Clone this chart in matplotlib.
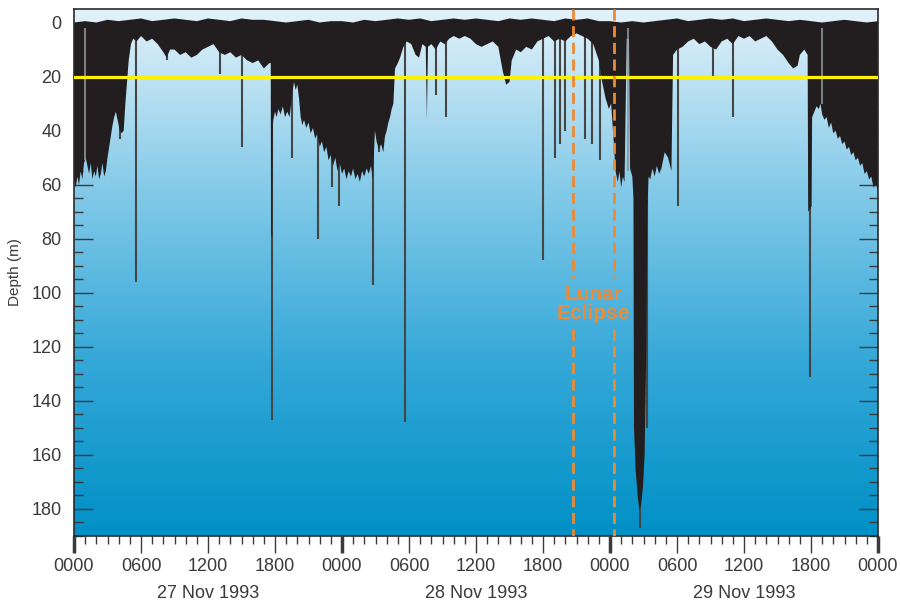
import numpy as np
import matplotlib.pyplot as plt
from matplotlib.colors import LinearSegmentedColormap

# dive record, hours since 0000 27 Nov 1993, depth in m
# lower outline of the dense dive trace
env_hours = [0.0, 0.15, 0.3, 0.45, 0.6, 0.75, 0.9, 1.05, 1.2, 1.35, 1.5, 1.65, 1.8, 1.95, 2.1, 2.25, 2.4, 2.55,
             2.7, 2.85, 3.0, 3.15, 3.3, 3.45, 3.6, 3.75, 3.9, 4.05, 4.25, 4.45, 4.6, 4.75, 4.9, 5.1, 5.3, 5.6,
             6.0, 6.5, 7.0, 7.5, 8.0, 8.3, 8.6, 9.0, 9.5, 10.0, 10.5, 11.0, 11.5, 12.0, 12.5, 13.0, 13.5,
             14.0, 14.5, 15.0, 15.5, 16.0, 16.5, 17.0, 17.5, 17.62, 17.65, 17.75, 17.8,
             17.85, 18.0, 18.15, 18.3, 18.5, 18.7, 18.9, 19.1, 19.3, 19.45, 19.55, 19.7, 19.85, 20.0, 20.15,
             20.3, 20.45, 20.6, 20.8, 21.0, 21.2, 21.4, 21.6, 21.8, 22.0, 22.2, 22.4, 22.6, 22.8, 23.0,
             23.2, 23.4, 23.6, 23.8, 24.0, 24.2, 24.4, 24.6, 24.8, 25.0, 25.2, 25.4, 25.6, 25.8, 26.0,
             26.2, 26.4, 26.6, 26.75, 26.95, 27.1, 27.3, 27.5, 27.7, 27.85, 28.0, 28.15, 28.3, 28.45, 28.6,
             28.75, 29.0, 29.2, 29.5,
             29.8, 30.2, 30.6, 30.9, 31.2, 31.5, 31.6, 31.7, 32.0, 32.4, 32.8, 33.2, 33.6, 34.0, 34.5,
             35.0, 35.5, 36.0, 36.5, 37.0, 37.5, 38.0, 38.4, 38.7, 39.0, 39.2, 39.6, 40.0, 40.5, 41.0,
             41.5, 42.0, 42.5, 43.0, 43.5, 44.0, 44.5, 45.0, 45.5, 46.0, 46.5, 47.0, 47.3, 47.6, 47.9,
             48.1, 48.3, 48.5, 48.7, 48.85, 49.0, 49.15, 49.3, 49.5, 49.7, 49.8,
             50.0, 50.1, 50.15, 50.3, 50.5, 50.65, 50.8, 50.95, 51.1, 51.25, 51.35, 51.45, 51.6, 51.8,
             52.0, 52.2, 52.4, 52.6, 52.9, 53.2, 53.5, 53.65, 54.0, 54.5, 55.0, 55.5, 56.0, 56.5, 57.0,
             57.5, 58.0, 58.5, 59.0, 59.5, 60.0, 60.5, 61.0, 61.5, 62.0, 62.5, 63.0, 63.5, 64.0, 64.4,
             64.8, 65.0, 65.4, 65.7, 65.75, 66.05,
             66.1, 66.3, 66.5, 66.7, 66.85, 67.0, 67.2, 67.4, 67.6, 67.8, 68.0, 68.2, 68.4, 68.6, 68.8,
             69.0, 69.2, 69.4, 69.6, 69.8, 70.0, 70.2, 70.4, 70.6, 70.8, 71.0, 71.2, 71.4, 71.6, 71.8, 72.0]
env_bottom = [58, 61, 57, 60, 55, 58, 52, 50, 53, 56, 52, 58, 55, 57, 53, 58, 56, 52,
              57, 55, 50, 46, 42, 38, 35, 33, 36, 39, 41, 40, 30, 22, 14, 8, 6, 7,
              5, 7, 6, 8, 11, 13, 10, 10, 12, 11, 13, 12, 10, 9, 8, 11, 12,
              11, 13, 12, 14, 15, 14, 17, 15, 15, 78, 80, 38,
              36, 33, 35, 32, 34, 31, 35, 33, 35, 30, 26, 22, 25, 23, 28,
              35, 38, 36, 39, 37, 41, 39, 43, 41, 46, 44, 48, 46, 51, 49,
              53, 50, 55, 52, 56, 54, 58, 55, 57, 54, 58, 56, 59, 55, 57,
              54, 56, 53, 58, 40, 44, 47, 45, 48, 42, 40, 37, 35, 32, 30,
              17, 15, 13, 9,
              7, 8, 12, 13, 8, 9, 36, 9, 8, 10, 7, 8, 6, 5, 6,
              5, 6, 8, 9, 8, 7, 9, 18, 23, 22, 14, 10, 11, 9, 10,
              7, 6, 5, 7, 6, 7, 5, 4, 5, 6, 8, 14, 22, 28, 32,
              30, 42, 55, 59, 55, 61, 57, 59, 6, 6, 54,
              57, 65, 150, 166, 176, 181, 178, 172, 160, 120, 70, 57, 58, 54,
              57, 53, 56, 54, 48, 50, 55, 12, 10, 9, 7, 6, 8, 7, 9,
              10, 7, 6, 8, 5, 6, 5, 7, 6, 5, 7, 10, 12, 15, 17,
              16, 12, 10, 12, 70, 68,
              35, 33, 31, 32, 30, 34, 36, 35, 39, 37, 41, 40, 43, 42, 45,
              44, 47, 46, 49, 48, 51, 50, 53, 52, 56, 55, 58, 57, 61, 60, 62]
# upper (surface) edge of the trace, one reading per hour
surface_hours = list(range(0, 73))
surface_depths = [0, -0.5, 0, -1, -0.5, -1, -1.5, -0.5, -1, -1.5, -1, -0.5,
                  -1.5, -1, -0.5, -1.5, -1, -1, -0.5, 0, -0.5, -1, 0, -0.5,
                  -0.5, 0, -1, -0.5, -1, -1.5, -1, -1.5, -0.5, -1, -1.5, -1,
                  -1.5, -1, -0.5, -1.5, -1, -1.5, -1, -0.5, -1.5, -1, -1.5, -0.5,
                  -0.5, 0, -0.5, 0, -0.5, -1, -1.5, -0.5, -1, -1.5, -1, -1.5,
                  -0.5, -1, -1.5, -1, -0.5, -1, -0.5, 0, -0.5, -1, -0.5, 0,
                  -0.5]

# single deep dives drawn as thin lines
spike_hours = [4.1, 5.55, 8.3, 13.1, 15.0, 17.7, 19.5, 21.85, 23.1, 23.75, 26.8, 27.3, 29.6, 32.4,
               33.35, 42.0, 43.1, 43.5, 44.0, 45.8, 46.4, 47.1, 50.7, 51.3, 54.1, 57.2, 59.0, 65.9]
spike_depths = [43, 96, 14, 19, 46, 147, 50, 80, 61, 68, 97, 48, 148, 27,
                35, 88, 50, 45, 40, 43, 45, 51, 187, 150, 68, 20, 35, 131]
# paler dive lines seen inside the black trace
light_hours = [1.0, 49.6, 66.95]
light_depths = [51, 55, 30]

threshold_depth = 20
eclipse_start, eclipse_end = 44.7, 48.4

xtick_hours = [0, 6, 12, 18, 24, 30, 36, 42, 48, 54, 60, 66, 72]
xtick_labels = ['0000', '0600', '1200', '1800', '0000', '0600', '1200', '1800',
                '0000', '0600', '1200', '1800', '0000']
day_hours = [12, 36, 60]
day_labels = ['27 Nov 1993', '28 Nov 1993', '29 Nov 1993']

plt.rcParams['font.family'] = ['Liberation Sans', 'DejaVu Sans']

fig = plt.figure(figsize=(9, 6.05), dpi=100)
ax = fig.add_axes([74 / 900, 1 - 536 / 605, 804 / 900, 527 / 605])

# sea background
sea = LinearSegmentedColormap.from_list('sea', ['#e3f2fa', '#86cbe9', '#35a8d8', '#0090c6'])
grad = np.linspace(0, 1, 256).reshape(-1, 1)
ax.imshow(grad, extent=(0, 72, 190, -5), cmap=sea, aspect='auto', zorder=0, interpolation='bicubic')

# dive trace: surface edge forward, lower outline back
poly_x = np.concatenate([surface_hours, env_hours[::-1]])
poly_y = np.concatenate([surface_depths, env_bottom[::-1]])
ax.fill(poly_x, poly_y, color='#221e1f', lw=0, zorder=2)
ax.vlines(spike_hours, 0, spike_depths, color='#454545', lw=1.5, zorder=1.9)
ax.vlines(light_hours, 2, light_depths, color='#8e959a', lw=1.2, zorder=2.1)

ax.axhline(threshold_depth, color='#fff200', lw=2.3, zorder=3)

for h in [eclipse_start, eclipse_end]:
    ax.vlines(h, -5, 94.5, color='#ee8a33', lw=2.0, linestyles=(0, (4, 2)), zorder=4)
    ax.vlines(h, 113.5, 190, color='#ee8a33', lw=2.0, linestyles=(0, (4, 2)), zorder=4)
ax.text((eclipse_start + eclipse_end) / 2, 104, 'Lunar\nEclipse', color='#ee8a33', fontsize=15,
        fontweight='bold', ha='center', va='center', linespacing=1.0, zorder=5)

ax.set_xlim(0, 72)
ax.set_ylim(190, -5)

ax.set_xticks(xtick_hours)
ax.set_xticklabels(xtick_labels)
ax.set_xticks(range(0, 73), minor=True)
ax.set_yticks(range(0, 181, 20))
ax.set_yticks(range(0, 191, 5), minor=True)

tc = '#3a3a3a'
ax.tick_params(axis='x', which='major', direction='out', length=12, width=1.0, colors=tc,
               labelsize=13, pad=4)
ax.tick_params(axis='x', which='minor', direction='out', length=6, width=1.0, colors=tc)
ax.tick_params(axis='y', which='major', direction='in', length=14, width=1.0, colors=tc,
               labelsize=13, pad=9, right=True)
ax.tick_params(axis='y', which='minor', direction='in', length=6.5, width=1.0, colors=tc, right=True)
for i, t in enumerate(ax.xaxis.get_major_ticks()):
    if xtick_labels[i] == '0000':
        t.tick1line.set_markeredgewidth(2.5)

for s in ax.spines.values():
    s.set_color('#2a2a2a')
    s.set_linewidth(1.2)

for h, lab in zip(day_hours, day_labels):
    ax.text(h, -0.11, lab, transform=ax.get_xaxis_transform(), ha='center', va='center',
            fontsize=13, color=tc)

fig.text(15 / 900, 1 - 272 / 605, 'Depth (m)', rotation=90, ha='center', va='center',
         fontsize=11, color=tc)

fig.savefig('out.png', dpi=100)
